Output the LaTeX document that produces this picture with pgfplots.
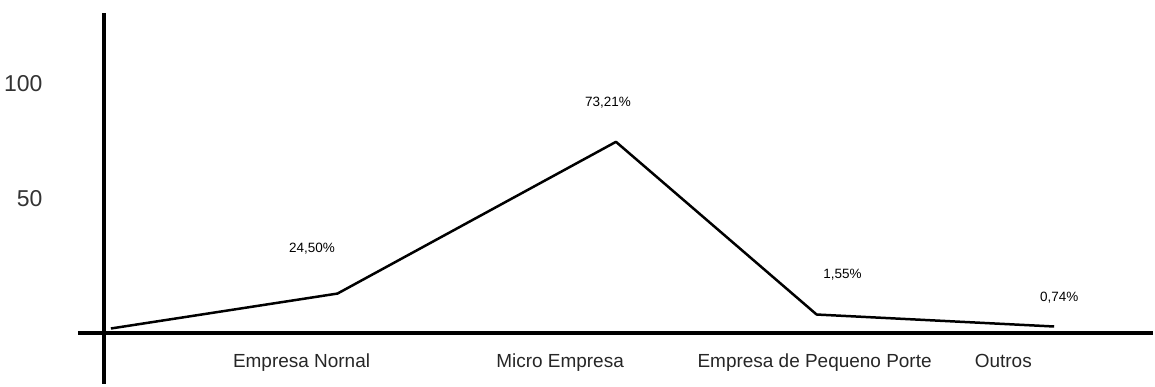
\documentclass[border=0pt]{standalone}
\usepackage{pgfplots}
\pgfplotsset{compat=1.18}
\usepackage{fontspec}
\setmainfont{Liberation Sans}
\begin{document}
\begin{tikzpicture}
\begin{axis}[
  scale only axis,
  width=1155pt, height=385pt,
  xmin=0, xmax=1155,
  ymin=-20.4, ymax=133.6,
  axis line style={draw=none},
  major tick length=0pt,
  clip=false,
  xtick={302,561,816,1005},
  xticklabels={Empresa Nornal,Micro Empresa,Empresa de Pequeno Porte,Outros},
  xticklabel style={anchor=base, yshift=17pt, font=\fontsize{19}{22}\selectfont, text=black!85},
  ytick={54,100.2},
  yticklabels={50,100},
  yticklabel style={anchor=east, xshift=46pt, font=\fontsize{23}{26}\selectfont, text=black!80},
  /pgf/number format/assume math mode=true,
]
% axes lines
\draw[line width=4pt, black] (axis cs:104,128.4) -- (axis cs:104,-20.4);
\draw[line width=4pt, black] (axis cs:78,0) -- (axis cs:1155,0);
% data
\addplot[black, line width=2.5pt, line join=round] coordinates {
  (111,2.0) (338,16.0) (617,76.8) (818,7.6) (1056,2.8)
};
\node[font=\fontsize{13.5}{15}\selectfont] at (axis cs:312.5,34) {24,50\%};
\node[font=\fontsize{13.5}{15}\selectfont] at (axis cs:609,92.6) {73,21\%};
\node[font=\fontsize{13.5}{15}\selectfont] at (axis cs:844,23.6) {1,55\%};
\node[font=\fontsize{13.5}{15}\selectfont] at (axis cs:1061,14.4) {0,74\%};
\end{axis}
\end{tikzpicture}
\end{document}
